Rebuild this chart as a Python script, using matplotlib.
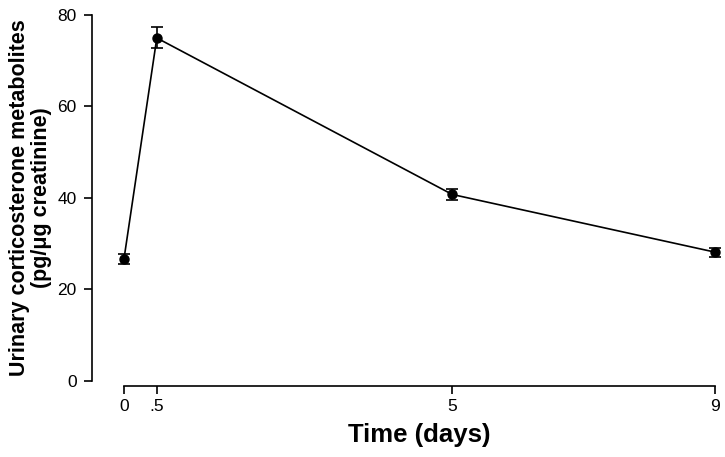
import matplotlib
matplotlib.use("Agg")
import matplotlib.pyplot as plt

plt.rcParams['font.family'] = ['Liberation Sans', 'DejaVu Sans']

days = [0, 0.5, 5, 9]
tick_labels = ["0", ".5", "5", "9"]
values = [26.6, 74.9, 40.7, 28.1]
errors = [1.1, 2.3, 1.2, 1.0]
yticks = [0, 20, 40, 60, 80]

fig = plt.figure(figsize=(7.25, 4.57), dpi=100)
ax = fig.add_axes([0.171, 0.167, 0.815, 0.801])

ax.errorbar(days, values, yerr=errors, color='black', lw=1.2, marker='o',
            markersize=6.5, capsize=4.5, elinewidth=1.2, capthick=1.2,
            zorder=3, clip_on=False)

ax.set_xlim(0, 9)
ax.set_ylim(0, 80)
ax.set_xticks(days)
ax.set_xticklabels(tick_labels)
ax.set_yticks(yticks)
ax.set_yticklabels([str(v) for v in yticks])

for s in ['top', 'right']:
    ax.spines[s].set_visible(False)
ax.spines['left'].set_position(('outward', 23))
ax.spines['bottom'].set_position(('outward', 3.5))
for s in ['left', 'bottom']:
    ax.spines[s].set_linewidth(1.2)
ax.tick_params(axis='both', direction='out', length=6, width=1.2,
               labelsize=12.5)
ax.tick_params(axis='y', pad=5)
ax.tick_params(axis='x', pad=4)

ax.set_xlabel("Time (days)", fontsize=18.5, fontweight='bold', labelpad=6)
ax.set_ylabel("Urinary corticosterone metabolites\n(pg/μg creatinine)",
              fontsize=15.5, fontweight='bold', labelpad=4, linespacing=1.05)

fig.savefig("out.png", dpi=100)
